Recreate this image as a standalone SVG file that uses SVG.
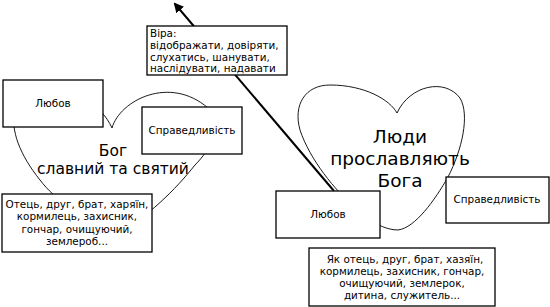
<svg xmlns="http://www.w3.org/2000/svg" width="550" height="307" viewBox="0 0 550 307">
<defs>
<style>
.heart{fill:none;stroke:#000;stroke-width:0.9}
.box{fill:#fff;stroke:#000;stroke-width:1.3}
.t{font-family:"DejaVu Sans","Liberation Sans",sans-serif;fill:#000}
.s{font-size:10.4px}
.c{text-anchor:middle}
.big{font-size:15.5px}
.big2{font-size:18.5px}
.conn{stroke:#000;stroke-width:2;fill:none}
</style>
<marker id="ah" markerWidth="10" markerHeight="10" refX="8" refY="5" orient="auto" markerUnits="userSpaceOnUse">
<path d="M0,0 L10,5 L0,10 z" fill="#000"/>
</marker>
</defs>
<rect width="550" height="307" fill="#fff"/>
<g id="heart-left">
<path class="heart" d="M112,128 C120,100 170,75 208,108 C225,125 210,150 195,165 C175,190 150,215 110,240 C80,215 55,200 40,180 C20,155 10,130 15,110 C20,85 90,80 112,128 Z"/>
<text class="t big c" x="113" y="156">Бог</text>
<text class="t big c" x="113" y="174">славний та святий</text>
</g>
<g id="heart-right">
<path class="heart" d="M397,113 C410,85 445,78 460,98 C470,115 462,150 448,177 C435,200 415,228 398,230 C385,230 370,222 355,208 C335,190 310,160 300,130 C293,105 305,85 330,85 C365,85 390,100 397,113 Z"/>
<text class="t big2 c" x="400" y="143">Люди</text>
<text class="t big2 c" x="400" y="165">прославляють</text>
<text class="t big2 c" x="400" y="187">Бога</text>
</g>
<g id="connectors">
<line class="conn" x1="334" y1="191" x2="175" y2="4" marker-end="url(#ah)"/>
</g>
<g id="vira">
<rect class="box" x="147" y="26" width="140" height="49"/>
<text class="t s" x="150" y="37">Віра:</text>
<text class="t s" x="150" y="49">відображати, довіряти,</text>
<text class="t s" x="150" y="61">слухатись, шанувати,</text>
<text class="t s" x="150" y="72">наслідувати, надавати</text>
</g>
<g id="love-left">
<rect class="box" x="3" y="80" width="100" height="47"/>
<text class="t s c" x="53" y="107">Любов</text>
</g>
<g id="justice-left">
<rect class="box" x="142" y="107" width="100" height="47"/>
<text class="t s c" x="192" y="134">Справедливість</text>
</g>
<g id="roles-left">
<rect class="box" x="2" y="194" width="150" height="58"/>
<text class="t s c" x="77" y="208">Отець, друг, брат, харяїн,</text>
<text class="t s c" x="77" y="220">кормилець, захисник,</text>
<text class="t s c" x="77" y="233">гончар, очищуючий,</text>
<text class="t s c" x="77" y="245">землероб...</text>
</g>
<g id="love-right">
<rect class="box" x="276" y="191" width="104" height="47"/>
<text class="t s c" x="328" y="218">Любов</text>
</g>
<g id="justice-right">
<rect class="box" x="446" y="177" width="103" height="46"/>
<text class="t s c" x="497" y="203">Справедливість</text>
</g>
<g id="roles-right">
<rect class="box" x="309" y="248" width="186" height="58"/>
<text class="t s c" x="405" y="263">Як отець, друг, брат, хазяїн,</text>
<text class="t s c" x="402" y="275">кормилець, захисник, гончар,</text>
<text class="t s c" x="402" y="287">очищуючий, землерок,</text>
<text class="t s c" x="402" y="299">дитина, служитель...</text>
</g>
</svg>
